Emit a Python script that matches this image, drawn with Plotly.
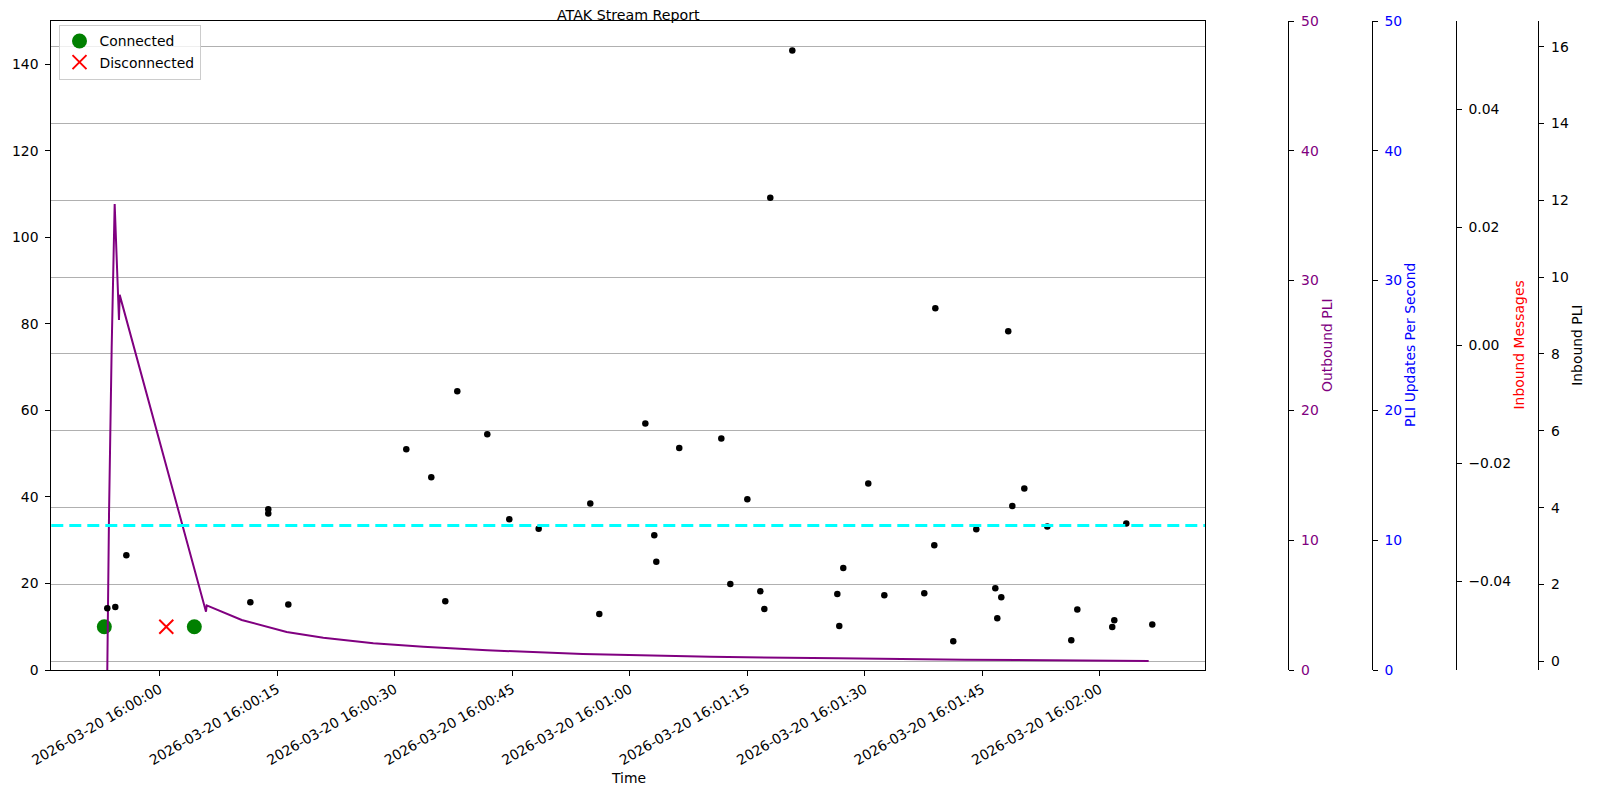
import pandas as pd
import plotly.graph_objects as go

BASE = pd.Timestamp("2026-03-20 16:00:00")

# Outbound PLI line: seconds after 16:00:00 and value
out_t = [-6.69, -6.47, -6.13, -5.75, -5.20, -5.11, 5.91, 6.00, 10.47, 16.21, 20.89,
         27.27, 33.65, 41.8, 54.0, 70.3, 86.6, 102.8, 126.26]
out_v = [0, 12.07, 24.9, 35.9, 26.96, 28.9, 4.49, 4.98, 3.85, 2.93, 2.49,
         2.06, 1.80, 1.52, 1.23, 1.02, 0.90, 0.79, 0.69]

# Inbound PLI scatter
in_t = [-6.69, -5.67, -4.26, 11.57, 13.86, 13.86, 16.42, 31.48, 34.67, 36.46, 37.99,
        41.82, 44.63, 48.38, 54.97, 56.12, 62.0, 63.14, 63.40, 66.33, 71.70, 72.85,
        75.02, 76.68, 77.19, 77.95, 80.76, 86.51, 86.76, 87.27, 90.46, 92.51, 97.61,
        98.89, 99.02, 101.31, 104.25, 106.68, 106.93, 107.44, 108.33, 108.85, 110.38,
        113.32, 116.38, 117.15, 121.61, 121.87, 123.40, 126.72]
in_v = [1.38, 1.41, 2.76, 1.54, 3.96, 3.85, 1.48, 5.52, 4.79, 1.56, 7.03,
        5.91, 3.70, 3.45, 4.11, 1.23, 6.19, 3.28, 2.59, 5.55, 5.80, 2.01,
        4.22, 1.82, 1.36, 12.07, 15.90, 1.75, 0.92, 2.43, 4.63, 1.72, 1.77,
        3.02, 9.19, 0.52, 3.44, 1.90, 1.12, 1.67, 8.59, 4.04, 4.50,
        3.51, 0.55, 1.35, 0.89, 1.07, 3.59, 0.96]

conn_t = [-7.07, 4.42]
conn_v = [10, 10]
disc_t = [0.84]
disc_v = [10]

threshold = 33.4

x_ticks_s = [0, 15, 30, 45, 60, 75, 90, 105, 120]
x_range_s = [-13.84, 133.45]


def ts(secs):
    return [BASE + pd.Timedelta(seconds=s) for s in secs]


# page body has an 8px margin: work in page pixels, convert to figure pixels
OFF = 8
W, H = 1600 - 2 * OFF, 800 - 2 * OFF


def fx(px):
    return (px - OFF) / W


def fy(py):
    return 1 - (py - OFF) / H


L, R, T, B = 51.3, 1205.0, 21.0, 670.0
FONT = "DejaVu Sans"
FS = 13.9

fig = go.Figure()
fig.add_trace(go.Scatter(x=ts(conn_t), y=conn_v, mode="markers", name="Connected",
                         marker=dict(color="green", size=15, symbol="circle"), yaxis="y"))
fig.add_trace(go.Scatter(x=ts(disc_t), y=disc_v, mode="markers", name="Disconnected",
                         marker=dict(color="red", size=14, symbol="x-thin",
                                     line=dict(color="red", width=2)), yaxis="y"))
fig.add_trace(go.Scatter(x=ts(out_t), y=out_v, mode="lines", showlegend=False,
                         line=dict(color="purple", width=2), yaxis="y2"))
fig.add_trace(go.Scatter(x=ts([0]), y=[None], mode="lines", showlegend=False, yaxis="y3"))
fig.add_trace(go.Scatter(x=ts([0]), y=[None], mode="lines", showlegend=False, yaxis="y4"))
fig.add_trace(go.Scatter(x=ts(in_t), y=in_v, mode="markers", showlegend=False,
                         marker=dict(color="black", size=6.5), yaxis="y5"))

fig.add_shape(type="line", xref="x domain", x0=0, x1=1, yref="y", y0=threshold, y1=threshold,
              line=dict(color="cyan", width=3, dash="12px,6px"), layer="above")

ydom = [fy(B), fy(T)]
common_free = dict(anchor="free", overlaying="y", side="right", showline=True, linecolor="black",
                   linewidth=1, ticks="outside", ticklen=5, tickwidth=1, tickcolor="black",
                   showgrid=False, zeroline=False, automargin=False, ticklabelstandoff=4)

fig.update_layout(
    width=W, height=H, margin=dict(l=0, r=0, t=0, b=0),
    plot_bgcolor="white", paper_bgcolor="white",
    font=dict(family=FONT, size=FS, color="black"),
    xaxis=dict(domain=[fx(L), fx(R)], type="date",
               range=[BASE + pd.Timedelta(seconds=x_range_s[0]), BASE + pd.Timedelta(seconds=x_range_s[1])],
               tickvals=ts(x_ticks_s),
               ticktext=[t.strftime("%Y-%m-%d %H:%M:%S") for t in ts(x_ticks_s)],
               tickangle=-30, ticks="outside", ticklen=5, tickwidth=1, tickcolor="black",
               showline=True, linecolor="black", linewidth=1, mirror=True,
               showgrid=False, zeroline=False, automargin=False),
    yaxis=dict(domain=ydom, range=[0, 150], tickvals=[0, 20, 40, 60, 80, 100, 120, 140],
               ticks="outside", ticklen=5, tickwidth=1, tickcolor="black",
               showline=True, linecolor="black", linewidth=1, mirror=True,
               showgrid=False, zeroline=False, automargin=False, ticklabelstandoff=4),
    yaxis2=dict(position=fx(1288.3), range=[0, 50], tickvals=[0, 10, 20, 30, 40, 50],
                tickfont=dict(color="purple"), **common_free),
    yaxis3=dict(position=fx(1371.7), range=[0, 50], tickvals=[0, 10, 20, 30, 40, 50],
                tickfont=dict(color="blue"), **common_free),
    yaxis4=dict(position=fx(1455.7), range=[-0.055, 0.055],
                tickvals=[-0.04, -0.02, 0, 0.02, 0.04],
                ticktext=["\u22120.04", "\u22120.02", "0.00", "0.02", "0.04"],
                tickfont=dict(color="black"), **common_free),
    yaxis5=dict(position=fx(1538.3), range=[-0.227, 16.669],
                tickvals=[0, 2, 4, 6, 8, 10, 12, 14, 16],
                tickfont=dict(color="black"),
                **{**common_free, "showgrid": True, "gridcolor": "#b0b0b0", "gridwidth": 1.1}),
    legend=dict(x=fx(58.5), y=fy(24.5), xanchor="left", yanchor="top",
                bgcolor="rgba(255,255,255,0.8)", bordercolor="#cccccc", borderwidth=1,
                font=dict(family=FONT, size=FS), tracegroupgap=0),
    showlegend=True,
)

ymid = fy((T + B) / 2)
annos = [
    dict(text="ATAK Stream Report", x=fx((L + R) / 2), y=fy(14.5), font=dict(size=14.2)),
    dict(text="Time", x=fx((L + R) / 2), y=fy(777.5), font=dict(size=FS)),
    dict(text="Outbound PLI", x=fx(1326.5), y=ymid, textangle=-90, font=dict(size=FS, color="purple")),
    dict(text="PLI Updates Per Second", x=fx(1409.5), y=ymid, textangle=-90, font=dict(size=FS, color="blue")),
    dict(text="Inbound Messages", x=fx(1518), y=ymid, textangle=-90, font=dict(size=FS, color="red")),
    dict(text="Inbound PLI", x=fx(1576.3), y=ymid, textangle=-90, font=dict(size=FS, color="black")),
]
for a in annos:
    fig.add_annotation(xref="paper", yref="paper", xanchor="center", yanchor="middle",
                       showarrow=False, **a)

fig.write_html("out.html")
